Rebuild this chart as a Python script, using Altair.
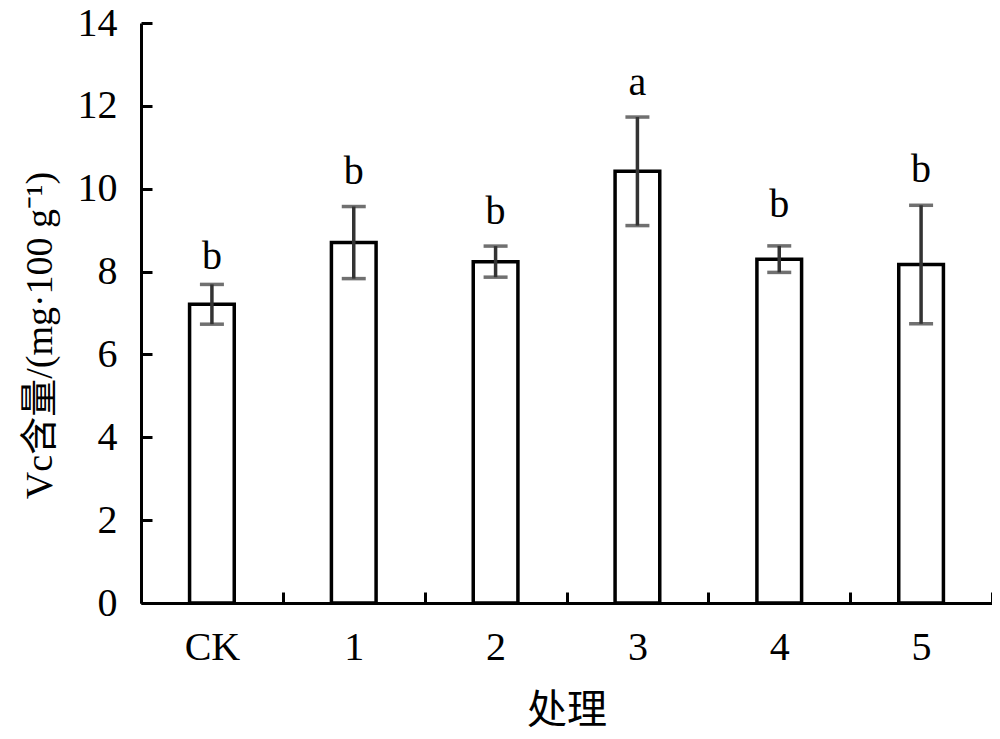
import altair as alt
import pandas as pd

treatments = ["CK", "1", "2", "3", "4", "5"]
means = [7.21, 8.70, 8.24, 10.42, 8.30, 8.17]
errors = [0.48, 0.87, 0.375, 1.31, 0.32, 1.43]
letters = ["b", "b", "b", "a", "b", "b"]
letter_pos = [8.07, 10.11, 9.15, 12.27, 9.32, 10.16]
y_ticks = [0, 2, 4, 6, 8, 10, 12, 14]

df = pd.DataFrame({
    "t": treatments,
    "mean": means,
    "err": errors,
    "letter": letters,
    "lpos": letter_pos,
})
df["lo"] = df["mean"] - df["err"]
df["hi"] = df["mean"] + df["err"]

FONT = "Liberation Serif, Times New Roman, Noto Sans CJK SC"
CJK_FONT = "Liberation Serif, Noto Sans CJK SC"

x_enc = alt.X(
    "t:N",
    sort=treatments,
    scale=alt.Scale(paddingInner=0, paddingOuter=0),
    axis=alt.Axis(
        title="处理",
        tickBand="extent",
        labelAngle=0,
        labelFont=FONT,
        labelFontSize=40,
        labelColor="black",
        labelPadding=35,
        labelBaseline="top",
        tickSize=alt.ExprRef("-11"),
        tickWidth=3,
        tickColor="black",
        domainColor="black",
        domainWidth=3,
        titleFont=CJK_FONT,
        titleFontSize=40,
        titleFontWeight="normal",
        titleColor="black",
        titleBaseline="middle",
        titleY=107,
    ),
)

y_scale = alt.Scale(domain=[0, 14], nice=False, zero=True)

y_enc = alt.Y(
    "mean:Q",
    scale=y_scale,
    axis=alt.Axis(
        title="Vc含量/(mg·100 g⁻¹)",
        values=y_ticks,
        grid=False,
        labelFont=FONT,
        labelFontSize=40,
        labelColor="black",
        labelPadding=35,
        tickSize=alt.ExprRef("-11"),
        tickWidth=3,
        tickColor="black",
        domainColor="black",
        domainWidth=3,
        titleFont=CJK_FONT,
        titleFontSize=38,
        titleFontWeight="normal",
        titleColor="black",
        titleAngle=-90,
        titleAlign="center",
        titleBaseline="middle",
        titleX=-101,
        titleY=312,
    ),
)

base = alt.Chart(df)

bars = base.mark_bar(
    width=alt.RelativeBandSize(0.315),
    fill="white",
    stroke="black",
    strokeWidth=3.5,
    strokeJoin="miter",
).encode(x=x_enc, y=y_enc)

err_rule = base.mark_rule(color="#333333", strokeWidth=3.5).encode(
    x=alt.X("t:N", sort=treatments),
    y=alt.Y("lo:Q", scale=y_scale),
    y2="hi:Q",
)

cap_hi = base.mark_tick(color="#333333", thickness=3.5, size=24, orient="horizontal").encode(
    x=alt.X("t:N", sort=treatments),
    y=alt.Y("hi:Q", scale=y_scale),
)
cap_lo = base.mark_tick(color="#333333", thickness=3.5, size=24, orient="horizontal").encode(
    x=alt.X("t:N", sort=treatments),
    y=alt.Y("lo:Q", scale=y_scale),
)

labels = base.mark_text(
    font=FONT, fontSize=40, color="black", baseline="alphabetic", align="center"
).encode(
    x=alt.X("t:N", sort=treatments),
    y=alt.Y("lpos:Q", scale=y_scale),
    text="letter:N",
)

chart = (
    alt.layer(bars, err_rule, cap_hi, cap_lo, labels)
    .properties(
        width=851,
        height=580,
        autosize=alt.AutoSizeParams(type="none"),
        padding={"left": 133, "top": 15, "right": 0, "bottom": 128},
        background="white",
    )
    .configure_view(stroke=None)
)

chart.save("out.html", embed_options={"renderer": "svg", "actions": False})
